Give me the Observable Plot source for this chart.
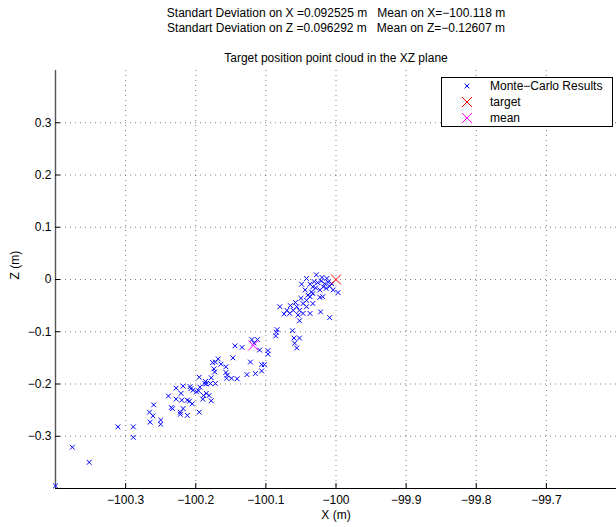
<!DOCTYPE html>
<html><head><meta charset="utf-8">
<script src="https://cdn.jsdelivr.net/npm/d3@7"></script>
<script src="https://cdn.jsdelivr.net/npm/@observablehq/plot@0.6"></script>
<style>
body{margin:0;background:#fff;font-family:"Liberation Sans",Arial,Helvetica,sans-serif;}
#wrap{position:relative;width:616px;height:527px;overflow:hidden;background:#fff;}
#head{height:64px;position:relative;font-size:12px;color:#000;}
.hl{position:absolute;left:55px;width:562px;text-align:center;white-space:pre;line-height:14px;}
#chart svg{display:block;}
#legend{position:absolute;left:441px;top:77px;width:170px;height:48px;border:1px solid #000;background:#fff;font-size:12px;}
.row{position:absolute;left:0;height:14px;width:168px;}
.row svg{position:absolute;left:18px;top:0;}
.row span{position:absolute;left:48px;top:0;line-height:14px;white-space:pre;}
</style></head>
<body>
<div id="wrap">
  <div id="head"></div>
  <div id="chart"></div>
  <div id="legend"></div>
</div>
<script>
// ---- data ----
const headerLines = [
  "Standart Deviation on X =0.092525 m   Mean on X=\u2212100.118 m",
  "Standart Deviation on Z =0.096292 m   Mean on Z=\u22120.12607 m"
];
const titleText = "Target position point cloud in the XZ plane";
const xLabel = "X (m)";
const zLabel = "Z (m)";
const legendLabels = ["Monte\u2212Carlo Results", "target", "mean"];

const xTicks = [-100.3, -100.2, -100.1, -100, -99.9, -99.8, -99.7];
const xTickLabels = ["\u2212100.3", "\u2212100.2", "\u2212100.1", "\u2212100", "\u221299.9", "\u221299.8", "\u221299.7"];
const zTicks = [-0.3, -0.2, -0.1, 0, 0.1, 0.2, 0.3];
const zTickLabels = ["\u22120.3", "\u22120.2", "\u22120.1", "0", "0.1", "0.2", "0.3"];
const xDomain = [-100.4, -99.6];
const zDomain = [-0.4, 0.4];

const mcX = [
 -100.400,-100.376,-100.352,-100.289,
 -100.311,-100.289,-100.265,-100.250,-100.250,-100.266,-100.261,-100.260,-100.235,-100.233,
 -100.239,-100.222,-100.218,-100.222,-100.212,-100.228,-100.221,-100.228,-100.218,-100.212,
 -100.209,-100.207,-100.208,-100.204,-100.205,-100.220,-100.195,-100.196,-100.195,-100.190,
 -100.189,-100.185,-100.181,-100.178,-100.187,-100.186,-100.185,-100.179,-100.172,-100.178,
 -100.194,-100.199,-100.176,-100.172,-100.168,-100.164,-100.174,-100.173,-100.157,-100.157,
 -100.155,-100.156,-100.149,-100.141,-100.147,-100.144,-100.134,-100.122,-100.127,-100.115,
 -100.106,-100.106,-100.102,-100.109,-100.097,-100.097,-100.085,-100.086,-100.120,-100.112,
 -100.117,
 -100.028,-100.049,-100.042,-100.037,-100.033,-100.035,-100.021,-100.016,-100.011,-100.018,
 -100.023,-100.009,-100.013,-99.997,-100.023,-100.033,-100.042,-100.037,-100.047,-100.056,
 -100.061,-100.052,-100.047,-100.054,-100.037,-100.033,-100.042,-100.066,-100.074,-100.070,
 -100.080,-100.022,-100.009,-100.052,-100.084,-100.062,-100.060,-100.052,-100.059,-100.056,
 -100.019,-100.026,-100.014,-100.006,-100.029,-100.020,-100.031,-100.044,-100.040,-100.050,
 -100.058,-100.065,-100.004
];
const mcZ = [
 -0.395,-0.321,-0.350,-0.302,
 -0.282,-0.282,-0.273,-0.269,-0.277,-0.254,-0.261,-0.240,-0.245,-0.247,
 -0.223,-0.254,-0.247,-0.258,-0.260,-0.229,-0.218,-0.208,-0.204,-0.231,
 -0.233,-0.209,-0.205,-0.212,-0.238,-0.231,-0.254,-0.213,-0.187,-0.229,
 -0.222,-0.218,-0.222,-0.232,-0.199,-0.195,-0.200,-0.199,-0.199,-0.188,
 -0.206,-0.215,-0.159,-0.158,-0.152,-0.162,-0.171,-0.177,-0.167,-0.178,
 -0.183,-0.189,-0.189,-0.190,-0.150,-0.127,-0.130,-0.158,-0.182,-0.180,
 -0.175,-0.163,-0.163,-0.135,-0.136,-0.143,-0.101,-0.108,-0.115,-0.115,
 -0.122,
 0.009,-0.009,0.002,-0.009,-0.014,-0.024,-0.003,-0.008,-0.005,-0.014,
 -0.020,-0.013,0.002,-0.025,-0.034,-0.027,-0.040,-0.033,-0.046,-0.052,
 -0.059,-0.059,-0.065,-0.068,-0.065,-0.046,-0.052,-0.065,-0.066,-0.059,
 -0.052,-0.062,-0.073,-0.079,-0.096,-0.098,-0.112,-0.112,-0.122,-0.131,
 -0.033,-0.006,-0.017,-0.008,-0.016,0.004,-0.004,-0.020,-0.030,-0.036,
 -0.044,-0.050,-0.020
];
const targetX = [-100];
const targetZ = [0];
const meanX = [-100.118];
const meanZ = [-0.12607];

// ---- header ----
const head = document.getElementById("head");
const headTops = [6, 21, 51];
[...headerLines, titleText].forEach((t, i) => {
  const d = document.createElement("div");
  d.className = "hl";
  d.style.top = headTops[i] + "px";
  d.textContent = t;
  head.appendChild(d);
});

// ---- chart ----
const mc = mcX.map((x, i) => ({x, z: mcZ[i]}));
const tgt = targetX.map((x, i) => ({x, z: targetZ[i]}));
const mn = meanX.map((x, i) => ({x, z: meanZ[i]}));

const W = 616, H = 463, mT = 6, mB = 39, mL = 55, mR = 0;
const innerH = H - mT - mB, innerW = W - mL - mR;
const gridStyle = {stroke: "#000", strokeOpacity: 0.5, strokeDasharray: "1,4", strokeWidth: 1};

const chart = Plot.plot({
  width: W, height: H,
  marginTop: mT, marginBottom: mB, marginLeft: mL, marginRight: mR,
  style: {fontFamily: "'Liberation Sans', Arial, sans-serif", fontSize: "12px", color: "#000", background: "#fff"},
  x: {domain: xDomain, label: null},
  y: {domain: zDomain, label: null},
  marks: [
    Plot.gridX(xTicks, gridStyle),
    Plot.gridY(zTicks, gridStyle),
    Plot.ruleY([zDomain[0]], {stroke: "#000", strokeWidth: 1}),
    Plot.ruleX([xDomain[0]], {stroke: "#555", strokeWidth: 1.4}),
    Plot.tickX(xTicks, {x: d => d, insetTop: innerH - 5, stroke: "#000"}),
    Plot.tickY(zTicks, {y: d => d, insetRight: innerW - 5, stroke: "#000"}),
    Plot.axisX(xTicks, {tickSize: 0, tickPadding: 7, label: null, fontSize: 12,
      tickFormat: d => xTickLabels[xTicks.indexOf(d)]}),
    Plot.axisY(zTicks, {tickSize: 0, tickPadding: 4, label: null, fontSize: 12,
      tickFormat: d => zTickLabels[zTicks.indexOf(d)]}),
    Plot.dot(mc, {x: "x", y: "z", symbol: "times", r: 2.3, stroke: "#0000ff", strokeWidth: 1}),
    Plot.dot(tgt, {x: "x", y: "z", symbol: "times", r: 4.6, stroke: "#ff0000", strokeWidth: 1}),
    Plot.dot(mn, {x: "x", y: "z", symbol: "times", r: 4.6, stroke: "#ff00ff", strokeWidth: 1}),
    Plot.text([xLabel], {text: d => d, frameAnchor: "bottom", dy: 30, fontSize: 12}),
    Plot.text([zLabel], {text: d => d, frameAnchor: "left", rotate: -90, dx: -40, fontSize: 12})
  ]
});
document.getElementById("chart").appendChild(chart);

// ---- legend ----
const legend = document.getElementById("legend");
const legColors = ["#0000ff", "#ff0000", "#ff00ff"];
const legHalf = [2.4, 5, 5];
const rowTops = [1, 17, 33];
legendLabels.forEach((lab, i) => {
  const row = document.createElement("div");
  row.className = "row";
  row.style.top = rowTops[i] + "px";
  const h = legHalf[i];
  row.innerHTML = `<svg width="14" height="14" viewBox="-7 -7 14 14"><path d="M${-h},${-h}L${h},${h}M${-h},${h}L${h},${-h}" stroke="${legColors[i]}" stroke-width="1" fill="none"/></svg><span></span>`;
  row.querySelector("span").textContent = lab;
  legend.appendChild(row);
});
</script>
</body></html>
